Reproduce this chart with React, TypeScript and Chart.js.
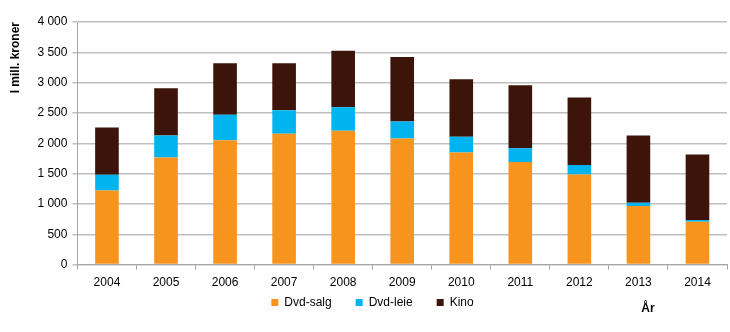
import React, { useEffect, useRef } from "react";
import { Chart, registerables } from "chart.js";

Chart.register(...registerables);

const years = ["2004", "2005", "2006", "2007", "2008", "2009", "2010", "2011", "2012", "2013", "2014"];
const dvdSalg = [1222, 1766, 2052, 2156, 2206, 2079, 1849, 1690, 1487, 966, 708];
const dvdLeie = [259, 363, 417, 390, 389, 280, 258, 230, 154, 55, 28];
const kino = [779, 779, 851, 774, 933, 1065, 949, 1037, 1113, 1108, 1080];
const seriesNames = ["Dvd-salg", "Dvd-leie", "Kino"];
const yTitle = "I mill. kroner";
const xTitle = "År";

const FONT = "'Liberation Sans', Arial, sans-serif";

const fmt = (v: number) => {
  const s = String(Math.round(v));
  return s.replace(/\B(?=(\d{3})+(?!\d))/g, " ");
};

const layoutPlugin = {
  id: "legendShiftAndTitle",
  afterLayout(chart: any) {
    const lg = chart.legend;
    if (lg) {
      const h = lg.bottom - lg.top;
      lg.top = chart.chartArea.bottom + 8;
      lg.bottom = lg.top + h;
      lg.left += 5;
      lg.right += 5;
      if (lg.adjustHitBoxes) lg.adjustHitBoxes();
    }
  },
  afterDraw(chart: any) {
    const { ctx, chartArea } = chart;
    ctx.save();
    ctx.font = `bold 12px ${FONT}`;
    ctx.fillStyle = "#000";
    ctx.textAlign = "center";
    ctx.textBaseline = "middle";
    ctx.fillText(xTitle, chartArea.right - 79, chartArea.bottom + 44);
    ctx.restore();
  },
};

export default function App() {
  const ref = useRef<HTMLCanvasElement>(null);
  useEffect(() => {
    document.body.style.margin = "0";
    const chart = new Chart(ref.current!, {
      type: "bar",
      data: {
        labels: years,
        datasets: [
          { label: seriesNames[0], data: dvdSalg, backgroundColor: "#F7941E", borderWidth: 0 },
          { label: seriesNames[1], data: dvdLeie, backgroundColor: "#00B5EF", borderWidth: 0 },
          { label: seriesNames[2], data: kino, backgroundColor: "#3C1409", borderWidth: 0 },
        ],
      },
      options: {
        responsive: false,
        animation: false,
        maintainAspectRatio: false,
        layout: { padding: { top: 22, right: 3, left: 8, bottom: -10 } },
        datasets: { bar: { barPercentage: 0.8, categoryPercentage: 0.5 } } as any,
        plugins: {
          legend: {
            position: "bottom",
            labels: {
              boxWidth: 7,
              boxHeight: 7,
              padding: 24,
              color: "#000",
              font: { family: FONT, size: 12 },
            },
          },
          tooltip: { enabled: false },
        },
        scales: {
          x: {
            stacked: true,
            grid: {
              display: true,
              drawOnChartArea: false,
              offset: true,
              color: "#A6A6A6",
              tickLength: 5,
            },
            border: { color: "#A6A6A6" },
            ticks: { color: "#000", font: { family: FONT, size: 12 }, padding: 6 },
          },
          y: {
            stacked: true,
            min: 0,
            max: 4000,
            grid: { color: "#BFBFBF", tickLength: 5, lineWidth: 1.5 },
            border: { color: "#A6A6A6" },
            ticks: {
              stepSize: 500,
              color: "#000",
              font: { family: FONT, size: 12 },
              padding: 5,
              callback: (v: any) => fmt(Number(v)),
            },
            title: {
              display: true,
              text: yTitle,
              align: "end",
              color: "#000",
              font: { family: FONT, size: 12, weight: "bold" },
              padding: { top: 0, bottom: 10 },
            },
          },
        },
      },
      plugins: [layoutPlugin],
    });
    return () => chart.destroy();
  }, []);
  return <canvas ref={ref} width={730} height={332} style={{ display: "block" }} />;
}
